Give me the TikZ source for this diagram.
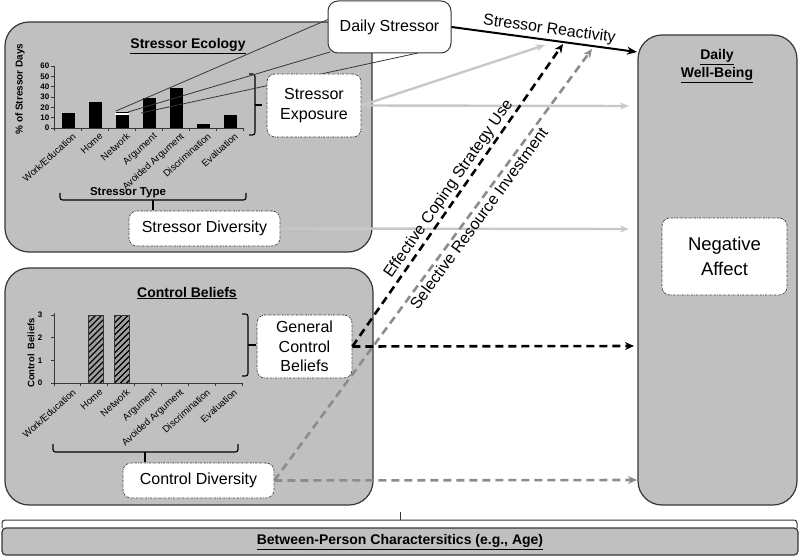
\documentclass[tikz,border=0pt]{standalone}
\usepackage{fontspec}
\setmainfont{Liberation Sans}
\usetikzlibrary{arrows.meta,calc}
\definecolor{boxgray}{RGB}{192,192,192}
\definecolor{edge}{RGB}{55,55,55}
\definecolor{lightarr}{RGB}{200,200,200}
\definecolor{midarr}{RGB}{140,140,140}
\begin{document}
\begin{tikzpicture}[x=1pt,y=-1pt,
  bigbox/.style={draw=edge,line width=1.2pt,fill=boxgray,rounded corners=24pt,inner sep=0pt},
  dotbox/.style={draw=edge,line width=0.7pt,dash pattern=on 2pt off 1pt on 0.6pt off 1pt,fill=white,rounded corners=8pt,align=center,font=\fontsize{16}{19.5}\selectfont,inner sep=0pt},
  solidbox/.style={draw=edge,line width=1pt,fill=white,rounded corners=10pt,align=center,font=\fontsize{16}{19.5}\selectfont,inner sep=0pt},
  title/.style={font=\bfseries\fontsize{14}{18}\selectfont,align=center,inner sep=0pt},
  axisline/.style={draw=edge,line width=0.8pt},
  ticklab/.style={font=\bfseries\fontsize{8}{9}\selectfont,inner sep=0pt},
  catlab/.style={font=\fontsize{9.6}{10}\selectfont,inner sep=0pt,rotate=42,anchor=north east},
  ylab/.style={font=\bfseries\fontsize{10}{11}\selectfont,rotate=90,inner sep=0pt},
  bracket/.style={draw=black,line width=1.1pt,rounded corners=2.5pt},
  thin/.style={draw=edge,line width=0.8pt},
  lightarrow/.style={draw=lightarr,line width=2.4pt,-{Stealth[length=9pt,width=7pt]}},
  blackdash/.style={draw=black,line width=2.6pt,dash pattern=on 8pt off 5pt,-{Stealth[length=9pt,width=8pt]}},
  graydash/.style={draw=midarr,line width=2.6pt,dash pattern=on 8pt off 5pt,-{Stealth[length=9pt,width=8pt]}},
  react/.style={draw=black,line width=2pt,-{Stealth[length=10pt,width=8pt]}},
  lab/.style={font=\fontsize{16}{19}\selectfont,inner sep=2pt}
]
\useasboundingbox (0,0) rectangle (800,556);

% big boxes
\node[bigbox,minimum width=367pt,minimum height=230pt] (eco) at (188.5,137) {};
\node[bigbox,minimum width=368pt,minimum height=237pt] (ctrl) at (189,386.5) {};
\node[bigbox,minimum width=159pt,minimum height=470pt] (wb) at (717.5,270) {};
\node[draw=edge,line width=1.2pt,fill=boxgray,rounded corners=4pt,minimum width=796pt,minimum height=27pt,inner sep=0pt] (bar) at (400,541.5) {};

% titles
\node[title] (ecot) at (188,46) {\underline{Stressor Ecology}};
\node[title] (ctrlt) at (187,293) {\underline{Control Beliefs}};
\node[title] (wbt) at (717,66) {\underline{Daily}\\\underline{Well-Being}};
\node[title,font=\bfseries\fontsize{14}{16}\selectfont] (bart) at (400,542) {\underline{Between-Person Charactersitics (e.g., Age)}};

% ---- Stressor chart ----
\foreach \v in {0,10,...,60} {
  \draw[axisline] (51,{128-1.03*\v}) -- (54,{128-1.03*\v});
  \node[ticklab,anchor=east] (sy\v) at (49.5,{128-1.03*\v}) {\v};
}
\foreach \i/\h in {0/15,1/25,2/16,3/29,4/39,5/4,6/13}
  \fill[black] (61.5+27*\i,128) rectangle ++(13.5,{-1.03*\h});
\draw[white,line width=1.3pt] (115,114) -- (129,114);
\draw[axisline] (54,66) -- (54,128) -- (243,128);
\foreach \k in {0,...,7} \draw[axisline] (54+27*\k,128) -- ++(0,3);
\foreach \t [count=\i from 0] in {{Work/Education},Home,Network,Argument,{Avoided Argument},Discrimination,Evaluation}
  \node[catlab] (sc\i) at (72+27*\i,132) {\t};
\node[ylab] (sylab) at (20,89) {\% of Stressor Days};
\node[font=\bfseries\fontsize{11.5}{12}\selectfont,inner sep=0pt] (stype) at (128,193) {Stressor Type};
\draw[bracket] (60,193) -- (60,200) -- (246,200) -- (246,193);
\draw[bracket,rounded corners=0pt] (153,200) -- (153,210);
% exposure bracket
\draw[bracket] (249,74) -- (255,74) -- (255,135) -- (249,135);
\draw[bracket,rounded corners=0pt] (255,105) -- (262,105);

% ---- Control chart ----
\foreach \v in {0,1,2,3} {
  \draw[axisline] (51,{383-22.7*\v}) -- (54,{383-22.7*\v});
  \node[ticklab] (cy\v) at (40,{383-22.7*\v}) {\v};
}
\foreach \xa in {88,114.5} {
  \fill[gray!75] (\xa,383) rectangle ++(15,-68);
  \begin{scope}
    \clip (\xa,383) rectangle ++(15,-68);
    \foreach \s in {-72,-66,...,24} \draw[black,line width=1.4pt] (\xa+\s,383) -- ++(72,-72);
  \end{scope}
  \draw[edge,line width=0.8pt] (\xa,383) rectangle ++(15,-68);
}
\draw[axisline] (54,313) -- (54,383) -- (242,383);
\foreach \k in {0,...,7} \draw[axisline] (54+26.85*\k,383) -- ++(0,3);
\foreach \t [count=\i from 0] in {{Work/Education},Home,Network,Argument,{Avoided Argument},Discrimination,Evaluation}
  \node[catlab] (cc\i) at (72+26.85*\i,388) {\t};
\node[ylab,font=\bfseries\fontsize{9.4}{10}\selectfont] (cylab) at (31,353) {Control~ Beliefs};
\draw[bracket] (53,444) -- (53,452) -- (238,452) -- (238,444);
\draw[bracket,rounded corners=0pt] (145,452) -- (145,462);
\draw[bracket] (242,314) -- (248,314) -- (248,376) -- (242,376);
\draw[bracket,rounded corners=0pt] (248,345) -- (256,345);

% bottom brace
\draw[edge,line width=1pt,rounded corners=3pt] (2,528) -- (2,520) -- (797,520) -- (797,528);
\draw[edge,line width=1pt] (400,520) -- (400,512);

% lines from network bar to daily stressor
\coordinate (n1) at (116,111);
\coordinate (n2) at (128,112);
\coordinate (n3) at (141,113);
\coordinate (d1) at (329,19);
\coordinate (d2) at (330,52);
\coordinate (d3) at (418,53);
\draw[thin] (n1) -- (d1);
\draw[thin] (n2) -- (d2);
\draw[thin] (n3) -- (d3);

% small boxes
\node[solidbox,minimum width=123pt,minimum height=52pt] (ds) at (389.5,27) {Daily Stressor};
\node[dotbox,minimum width=94pt,minimum height=63pt] (se) at (314,105.5) {Stressor\\Exposure};
\node[dotbox,minimum width=151pt,minimum height=35pt] (sd) at (204.5,228.5) {Stressor Diversity};
\node[dotbox,minimum width=95pt,minimum height=63pt] (gcb) at (304.5,346.5) {General\\Control\\Beliefs};
\node[dotbox,minimum width=151pt,minimum height=35pt] (cd) at (198.5,480.5) {Control Diversity};
\node[dotbox,minimum width=125pt,minimum height=77pt,font=\fontsize{18.5}{25}\selectfont] (na) at (724.5,256.5) {Negative\\Affect};

% target coordinates
\coordinate (tR) at (637,52);
\coordinate (tL) at (545,45);
\coordinate (tB) at (563,44);
\coordinate (tG) at (592,49);
\coordinate (h1) at (629,106);
\coordinate (h2) at (629,229);
\coordinate (h3) at (634,346);
\coordinate (h4) at (637,480);

% arrows
\draw[lightarrow] (se.east) -- (h1);
\draw[lightarrow] (se.east) -- (tL);
\draw[lightarrow] (sd.east) -- (h2);
\draw[graydash] (cd.east) -- (h4);
\draw[graydash] (cd.east) -- node[lab,below,sloped,pos=0.62] (sri) {Selective Resource Investment} (tG);
\draw[blackdash] (gcb.east) -- (h3);
\draw[blackdash] (gcb.east) -- node[lab,above,sloped,pos=0.5] (ecs) {Effective Coping Strategy Use} (tB);
\draw[react] (ds.east) -- node[lab,above,sloped,pos=0.52] (sr) {Stressor Reactivity} (tR);
\end{tikzpicture}
\end{document}
